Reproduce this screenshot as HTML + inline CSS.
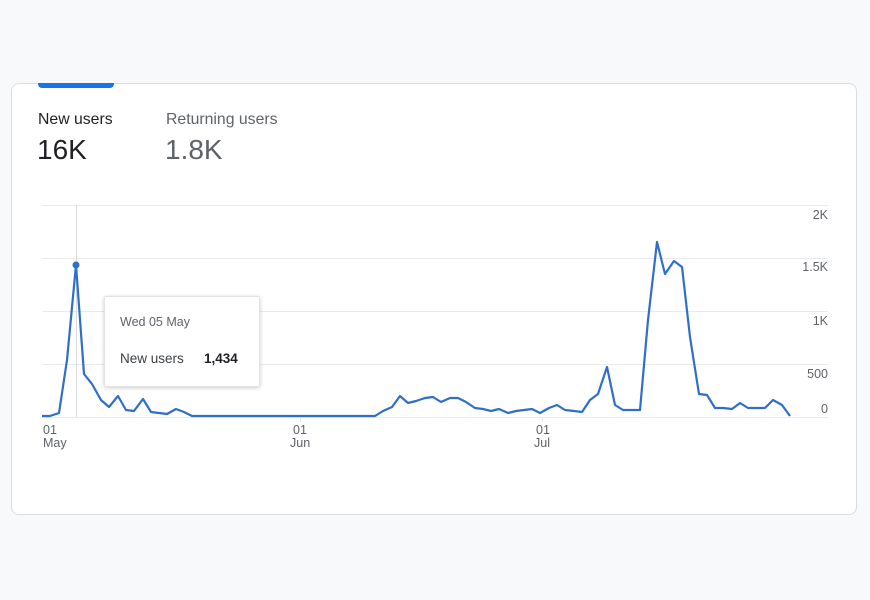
<!DOCTYPE html>
<html><head><style>
body{margin:0;width:870px;height:600px;background:#f8f9fa;font-family:"Liberation Sans",Arial,sans-serif;position:relative;overflow:hidden}
.card{position:absolute;left:11px;top:83px;width:844px;height:430px;background:#fff;border:1px solid #dadce0;border-radius:8px}
.tab{position:absolute;left:38px;top:83px;width:76px;height:5px;background:#1a73e8;border-radius:0 0 4px 4px}
.t{position:absolute;white-space:nowrap}
.tip{position:absolute;left:104px;top:296px;width:154px;height:89px;background:#fff;border:1px solid #e3e3e3;box-shadow:0 1px 4px rgba(0,0,0,.2);border-radius:2px}
</style></head><body>
<div class="card"></div>
<div class="tab"></div>
<div class="t" style="left:38px;top:111px;font-size:15.8px;color:#202124">New users</div>
<div class="t" style="left:37px;top:134px;font-size:28px;color:#202124">16K</div>
<div class="t" style="left:166px;top:111px;font-size:15.8px;color:#5f6368">Returning users</div>
<div class="t" style="left:165px;top:134px;font-size:28px;color:#5f6368">1.8K</div>
<svg width="870" height="600" style="position:absolute;left:0;top:0">
<g stroke="#e8eaed" stroke-width="1">
<line x1="42" y1="205.5" x2="828" y2="205.5"/>
<line x1="42" y1="258.5" x2="828" y2="258.5"/>
<line x1="42" y1="311.5" x2="828" y2="311.5"/>
<line x1="42" y1="364.5" x2="828" y2="364.5"/>
<line x1="42" y1="417.5" x2="828" y2="417.5"/>
<line x1="76.5" y1="205" x2="76.5" y2="417" stroke="#dadce0"/>
<line x1="300.5" y1="417" x2="300.5" y2="422"/>
<line x1="542.5" y1="417" x2="542.5" y2="422"/>
</g>
<polyline fill="none" stroke="#2f6fc9" stroke-width="2.2" stroke-linejoin="round" points="42,416 50,416 59,413 67,360 76,265 84,374 92,384 101,400 109,407 118,396 126,410 134,411 143,399 151,412 159,413 167,414 176,409 184,412 192,416 375,416 383,411 392,407 400,396 408,403 416,401 425,398 433,397 441,402 450,398 458,398 466,402 475,408 483,409 491,411 499,409 508,413 516,411 524,410 532,409 540,413 549,408 557,405 565,410 574,411 582,412 590,400 598,394 607,367 615,405 623,410 632,410 640,410 648,320 657,242 665,274 674,261 682,267 690,337 699,394 707,395 715,408 723,408 732,409 740,403 748,408 757,408 765,408 773,400 782,405 790,416"/>
<circle cx="76" cy="265" r="3.5" fill="#2f6fc9"/>
<g font-size="12.5" fill="#5f6368" text-anchor="end">
<text x="828" y="219">2K</text><text x="828" y="271">1.5K</text><text x="828" y="325">1K</text><text x="828" y="378">500</text><text x="828" y="413">0</text>
</g>
<g font-size="12.5" fill="#5f6368">
<text x="43" y="434">01</text><text x="43" y="447">May</text>
<text x="293" y="434">01</text><text x="290" y="447">Jun</text>
<text x="536" y="434">01</text><text x="534" y="447">Jul</text>
</g>
</svg>
<div class="tip">
<div class="t" style="left:15px;top:18px;font-size:12.5px;color:#5f6368">Wed 05 May</div>
<div class="t" style="left:15px;top:54px;font-size:13.5px;color:#3c4043">New users</div>
<div class="t" style="left:99px;top:54px;font-size:13.5px;font-weight:bold;color:#202124">1,434</div>
</div>
</body></html>
